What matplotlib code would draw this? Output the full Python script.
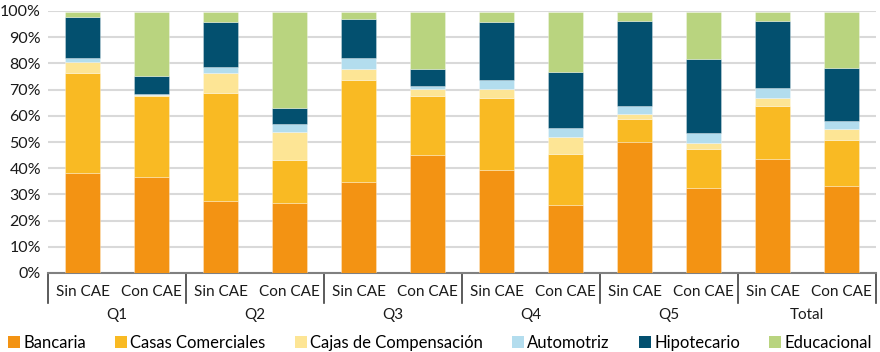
import numpy as np
import matplotlib
matplotlib.use("Agg")
import matplotlib.pyplot as plt
import matplotlib.transforms as mtransforms
from matplotlib.patches import Patch

plt.rcParams['font.family'] = ['Lato', 'DejaVu Sans']

# Data (% of debt by type)
groups = ["Q1", "Q2", "Q3", "Q4", "Q5", "Total"]
sub_labels = ["Sin CAE", "Con CAE"]
series_names = ["Bancaria", "Casas Comerciales", "Cajas de Compensación",
                "Automotriz", "Hipotecario", "Educacional"]

bancaria = [38.1, 36.6, 27.5, 26.9, 34.7, 45.0, 39.3, 26.0, 49.9, 32.3, 43.7, 33.1]
casas = [38.2, 30.8, 41.1, 16.1, 39.1, 22.4, 27.5, 19.6, 8.8, 15.0, 19.9, 17.5]
cajas = [4.4, 0.7, 7.8, 10.7, 4.1, 2.7, 3.3, 6.2, 1.8, 2.5, 3.3, 4.3]
automotriz = [1.2, 0.2, 2.4, 3.1, 4.0, 1.1, 3.5, 3.7, 3.3, 3.8, 3.7, 3.1]
hipotecario = [15.7, 6.9, 16.9, 6.3, 14.9, 6.7, 22.1, 21.4, 32.5, 28.1, 25.7, 20.1]
educacional = [1.9, 24.5, 3.8, 36.4, 2.7, 21.6, 3.8, 22.6, 3.2, 17.8, 3.2, 21.4]

series = [bancaria, casas, cajas, automotriz, hipotecario, educacional]
colors = ["#F39313", "#F9BA23", "#FDE595", "#B3DDEE", "#03506F", "#B9D47F"]

fig = plt.figure(figsize=(8.8, 3.52), dpi=100)
ax = fig.add_axes([48 / 880, (352 - 273) / 352, (876 - 48) / 880, 262 / 352])

x = np.arange(len(bancaria))
bottom = np.zeros(len(x))
for vals, col, name in zip(series, colors, series_names):
    ax.bar(x, vals, bottom=bottom, width=0.5, color=col, label=name, zorder=3,
           edgecolor=(1, 1, 1, 0.35), linewidth=0.6)
    bottom += np.array(vals)

ax.set_xlim(-0.5, len(x) - 0.5)
ax.set_ylim(0, 100)
ax.set_yticks(np.arange(0, 101, 10))
ax.set_yticklabels([f"{v}%" for v in range(0, 101, 10)])
ax.yaxis.grid(True, color="#D9D9D9", linewidth=1.5, zorder=0)
ax.set_axisbelow(True)
for s in ["top", "right", "left"]:
    ax.spines[s].set_visible(False)
ax.spines["bottom"].set_color("#808080")
ax.spines["bottom"].set_linewidth(1.5)
ax.tick_params(axis="y", length=0, labelsize=11.5, pad=5, colors="#1a1a1a")

ax.set_xticks(x)
ax.set_xticklabels(sub_labels * len(groups))
ax.tick_params(axis="x", length=0, labelsize=11, pad=9, colors="#1a1a1a")

# group separators and group labels under the sub labels
trans = mtransforms.blended_transform_factory(ax.transData, ax.transAxes)
for i in range(len(groups) + 1):
    xs = i * 2 - 0.5
    ax.plot([xs, xs], [0, -0.115], transform=trans, color="#404040",
            linewidth=1.2, clip_on=False)
for i, g in enumerate(groups):
    ax.text(i * 2 + 0.5, -0.16, g, transform=trans, ha="center", va="center",
            fontsize=11, color="#1a1a1a")

handles = [Patch(facecolor=c, label=n) for c, n in zip(colors, series_names)]
fig.legend(handles=handles, loc="center", bbox_to_anchor=(0.5, 0.026), ncol=6,
           frameon=False, fontsize=12, handlelength=0.72, handleheight=0.72,
           handletextpad=0.2, columnspacing=1.75, borderaxespad=0.0, borderpad=0.0)

fig.savefig("out.png", dpi=100)
